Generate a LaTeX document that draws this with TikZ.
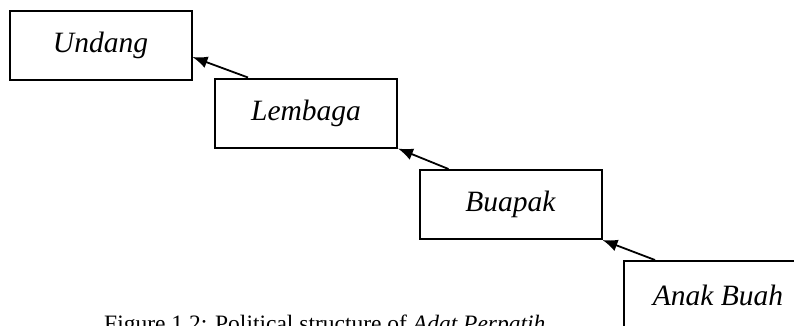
\documentclass[tikz,border=0pt]{standalone}
\usepackage{fontspec}
\setmainfont{Liberation Serif}
\usetikzlibrary{arrows.meta}
\tikzset{
	rank/.style={draw=black, line width=2pt, minimum width=182pt, minimum height=69pt,
		inner sep=0pt, font=\fontsize{29.5}{34}\selectfont\itshape},
	uplink/.style={line width=1.8pt, -{Latex[length=15pt,width=12pt]}}
}

\begin{document}
\begin{tikzpicture}[x=1pt, y=-1pt]
			%%%%% START %%%%%
			\useasboundingbox (0, 0) rectangle (794, 325);
			
			\node[rank] (undang) at (100.5, 45.5) {Undang};
			\node[rank] (lembaga) at (306, 113) {Lembaga};
			\node[rank] (buapak) at (510.5, 204.5) {Buapak};
			% runs off the page to the right
			\node[rank, minimum width=220pt] (anakbuah) at (734, 295.5) {Anak Buah\hspace*{32pt}};
			
			\draw[uplink] ([xshift=-58pt]lembaga.north) -- ([yshift=-11.5pt]undang.east);
			\draw[uplink] ([xshift=-62pt]buapak.north) -- (lembaga.south east);
			\draw[uplink] ([xshift=-79pt]anakbuah.north) -- (buapak.south east);
			
			\node[anchor=base west, inner sep=0pt, font=\fontsize{23.5}{28}\selectfont] (caption) at (104, 331)
				{Figure 1.2: Political structure of \textit{Adat Perpatih}};
			%%%%% END %%%%%
\end{tikzpicture}
\end{document}
